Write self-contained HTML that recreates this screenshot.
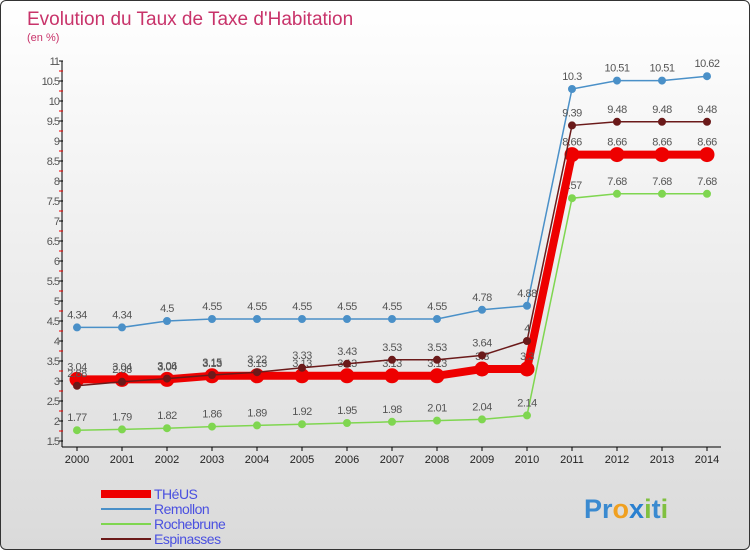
<!DOCTYPE html>
<html><head><meta charset="utf-8"><style>
body{margin:0;}
#wrap{width:748px;height:548px;border:1px solid #333;border-radius:6px;overflow:hidden;background:linear-gradient(#fff,#dadada);position:relative;font-family:"Liberation Sans",sans-serif;}
svg{position:absolute;left:0;top:0}
</style></head><body>
<div id="wrap">
<svg id="c" width="750" height="550"></svg>
</div>
<script>
const years=[2000,2001,2002,2003,2004,2005,2006,2007,2008,2009,2010,2011,2012,2013,2014];
const theus=[3.04,3.04,3.04,3.13,3.13,3.13,3.13,3.13,3.13,3.3,3.3,8.66,8.66,8.66,8.66];
const remollon=[4.34,4.34,4.5,4.55,4.55,4.55,4.55,4.55,4.55,4.78,4.88,10.3,10.51,10.51,10.62];
const rochebrune=[1.77,1.79,1.82,1.86,1.89,1.92,1.95,1.98,2.01,2.04,2.14,7.57,7.68,7.68,7.68];
const espinasses=[2.88,2.98,3.06,3.15,3.22,3.33,3.43,3.53,3.53,3.64,4,9.39,9.48,9.48,9.48];
const yTicks=[1.5,2,2.5,3,3.5,4,4.5,5,5.5,6,6.5,7,7.5,8,8.5,9,9.5,10,10.5,11];
const NS="http://www.w3.org/2000/svg",svg=document.getElementById('c');
const X=i=>76+i*45, Y=v=>440-(v-1.5)*40;
function el(t,a,p){const e=document.createElementNS(NS,t);for(const k in a)e.setAttribute(k,a[k]);(p||svg).appendChild(e);return e;}
function fmt(v){return String(v);}
let t=el('text',{x:26,y:24,'font-size':19,fill:'#c8336a'});t.textContent="Evolution du Taux de Taxe d'Habitation";

t=el('text',{x:26,y:40,'font-size':11,fill:'#c8336a'});t.textContent="(en %)";

let ax=el('g',{});
el('line',{x1:61,y1:Y(11),x2:61,y2:Y(1.5)+6,stroke:'#000'},ax);
yTicks.forEach(v=>{el('line',{x1:58,x2:62,y1:Y(v),y2:Y(v),stroke:'#000'},ax);
 if(v<11)el('line',{x1:58,x2:62,y1:Y(v+0.25),y2:Y(v+0.25),stroke:'#e00'},ax);
 const s=el('text',{x:58,y:Y(v)+4,'font-size':11,fill:'#555','text-anchor':'end','letter-spacing':-1},ax);s.textContent=fmt(v);});
let xa=el('g',{});
el('line',{x1:61,x2:720,y1:446,y2:446,stroke:'#000'},xa);
years.forEach((y,i)=>{el('line',{x1:X(i),x2:X(i),y1:446,y2:450,stroke:'#000'},xa);
 const s=el('text',{x:X(i),y:462,'font-size':11,fill:'#222','text-anchor':'middle'},xa);s.textContent=y;});
function series(name,data,color,w,r,dot){
 const g=el('g',{});
 el('polyline',{points:data.map((v,i)=>X(i)+','+Y(v)).join(' '),fill:'none',stroke:color,'stroke-width':w},g);
 data.forEach((v,i)=>{const c=el('circle',{cx:X(i),cy:Y(v),r:r,fill:dot,stroke:color,'stroke-width':1},g);
  
  const s=el('text',{x:X(i),y:Y(v)-9,'font-size':11,fill:'#555','text-anchor':'middle','letter-spacing':-0.5},g);s.textContent=v;});
}
series('rochebrune',rochebrune,'#7fd650',1.5,3.5,'#7fd650');
series('remollon',remollon,'#4a90c8',1.5,3.5,'#4a90c8');
series('theus',theus,'#ee0000',8,7,'#ee0000');
series('espinasses',espinasses,'#6b1a1a',1.5,3.5,'#6b1a1a');
const leg=[['THéUS','#ee0000',8],['Remollon','#4a90c8',2],['Rochebrune','#7fd650',2],['Espinasses','#6b1a1a',2]];
leg.forEach((l,i)=>{const g=el('g',{});
 const y=493+i*15;el('line',{x1:100,x2:150,y1:y,y2:y,stroke:l[1],'stroke-width':l[2]},g);
 const s=el('text',{x:153,y:y+5,'font-size':14,fill:'#4a50e0','letter-spacing':-0.5},g);s.textContent=l[0];});
t=el('text',{x:583,y:517,'font-size':27,'font-weight':'bold',fill:'#3a8ad0'});
t.innerHTML='Pr<tspan fill="#f0a020">o</tspan><tspan fill="#2a80d0">x</tspan><tspan fill="#80c040">i</tspan>t<tspan fill="#80c040">i</tspan>';

</script>
</body></html>
